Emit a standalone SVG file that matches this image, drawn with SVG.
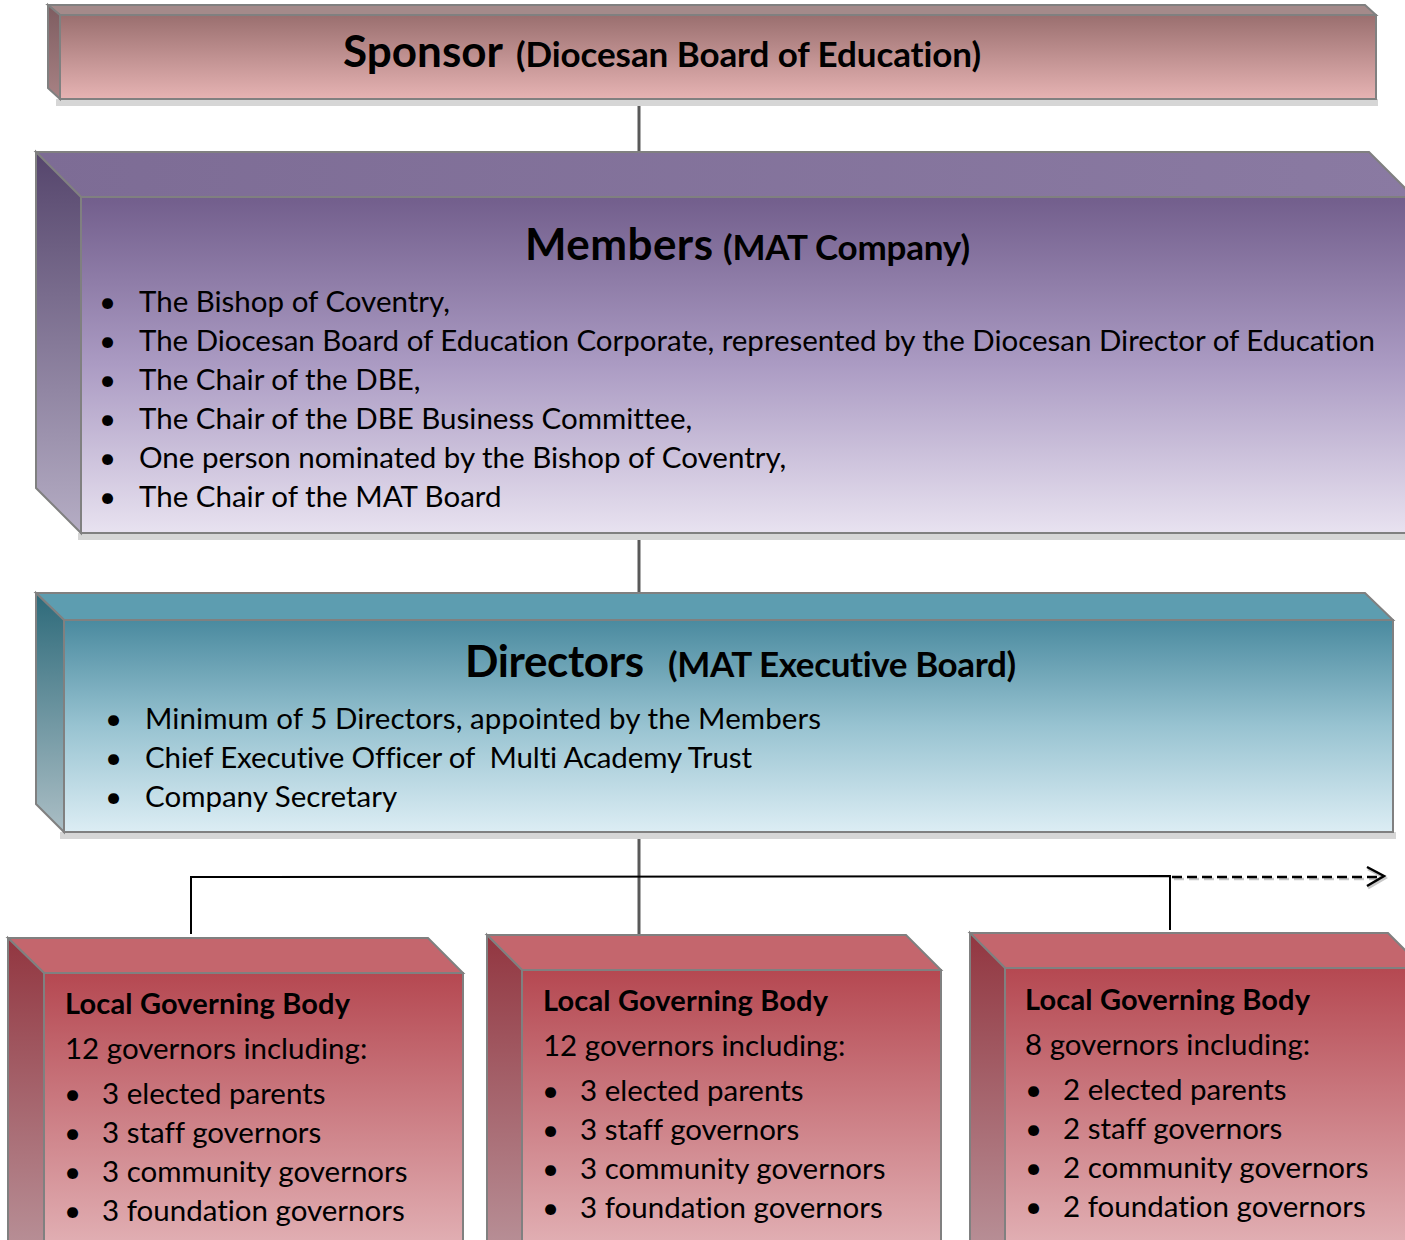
<svg xmlns="http://www.w3.org/2000/svg" width="1405" height="1240" viewBox="0 0 1405 1240">
<defs>
<linearGradient id="spF" x1="0" y1="0" x2="0" y2="1"><stop offset="0" stop-color="#9a6f6f"/><stop offset="1" stop-color="#e6b3b3"/></linearGradient>
<linearGradient id="spL" x1="0" y1="0" x2="0" y2="1"><stop offset="0" stop-color="#7d5c60"/><stop offset="1" stop-color="#a88284"/></linearGradient>
<linearGradient id="mbF" x1="0" y1="0" x2="0" y2="1"><stop offset="0" stop-color="#725e8c"/><stop offset="0.5" stop-color="#ab9bc3"/><stop offset="1" stop-color="#e8e2f0"/></linearGradient>
<linearGradient id="mbL" x1="0" y1="0" x2="0" y2="1"><stop offset="0" stop-color="#55456c"/><stop offset="1" stop-color="#b5adc4"/></linearGradient>
<linearGradient id="mbT" x1="0" y1="0" x2="1" y2="0"><stop offset="0" stop-color="#7d6c95"/><stop offset="1" stop-color="#8a7aa2"/></linearGradient>
<linearGradient id="drF" x1="0" y1="0" x2="0" y2="1"><stop offset="0" stop-color="#4a8a9f"/><stop offset="0.5" stop-color="#98c3d1"/><stop offset="1" stop-color="#dcedf4"/></linearGradient>
<linearGradient id="drL" x1="0" y1="0" x2="0" y2="1"><stop offset="0" stop-color="#2d6a7a"/><stop offset="1" stop-color="#abbec5"/></linearGradient>
<linearGradient id="lgF" x1="0" y1="0" x2="0" y2="1"><stop offset="0" stop-color="#b54851"/><stop offset="1" stop-color="#e4b6ba"/></linearGradient>
<linearGradient id="lgL" x1="0" y1="0" x2="0" y2="1"><stop offset="0" stop-color="#923640"/><stop offset="1" stop-color="#b9939a"/></linearGradient>
</defs>
<style>
.edge{stroke:#808080;stroke-width:2;stroke-linejoin:miter}
.shadow{fill:#d6d6d6}
text{font-family:Lato,"Open Sans","Liberation Sans",sans-serif;fill:#000;font-variant-ligatures:none}
.big{font-size:44px;font-weight:700}
.sub{font-size:35px;font-weight:700}
.item{font-size:29.5px}
.lgt{font-size:29px;font-weight:700}
.lgi{font-size:29.5px}
.conn{stroke:#595959;stroke-width:3;fill:none}
.thin{stroke:#000;stroke-width:2;fill:none}
</style>

<g id="connectors">
<line class="conn" x1="639" y1="99" x2="639" y2="157"/>
<line class="conn" x1="639" y1="540" x2="639" y2="598"/>
<line class="conn" x1="639" y1="832" x2="639" y2="942"/>
<polyline class="thin" points="191,934 191,877 1170,876 1170,930"/>
<line x1="1174" y1="879" x2="1380" y2="879" stroke="#c8c8c8" stroke-width="2.5" stroke-dasharray="10 5"/>
<line x1="1172" y1="877" x2="1378" y2="877" stroke="#000" stroke-width="2.5" stroke-dasharray="10 5"/>
<polyline points="1368,869 1385,878 1368,888" fill="none" stroke="#c8c8c8" stroke-width="3"/>
<polyline points="1367,867 1384,876 1367,886" fill="none" stroke="#000" stroke-width="2.5"/>
</g>

<g id="sponsor">
<rect class="shadow" x="56" y="99" width="1322" height="7"/>
<polygon class="edge" fill="#a48a8a" points="48,5 1365,5 1376,15 60,15"/>
<polygon class="edge" fill="url(#spL)" points="48,5 60,15 60,99 48,88"/>
<rect class="edge" fill="url(#spF)" x="60" y="15" width="1316" height="84"/>
<text x="343" y="67" class="big" textLength="160" lengthAdjust="spacing">Sponsor</text>
<text x="516" y="67" class="sub" textLength="465" lengthAdjust="spacing">(Diocesan Board of Education)</text>
</g>

<g id="members">
<rect class="shadow" x="78" y="533" width="1340" height="7"/>
<polygon class="edge" fill="url(#mbT)" points="36,152 1369,152 1414,197 81,197"/>
<polygon class="edge" fill="url(#mbL)" points="36,152 81,197 81,533 36,488"/>
<rect class="edge" fill="url(#mbF)" x="81" y="197" width="1340" height="336"/>
<text x="525" y="260" class="big" textLength="188" lengthAdjust="spacing">Members</text>
<text x="723" y="260" class="sub" textLength="247" lengthAdjust="spacing">(MAT Company)</text>
<g class="item">
<text x="99" y="312">•</text><text x="139" y="312">The Bishop of Coventry,</text>
<text x="99" y="351">•</text><text x="139" y="351" textLength="1236" lengthAdjust="spacing">The Diocesan Board of Education Corporate, represented by the Diocesan Director of Education</text>
<text x="99" y="390">•</text><text x="139" y="390">The Chair of the DBE,</text>
<text x="99" y="429">•</text><text x="139" y="429">The Chair of the DBE Business Committee,</text>
<text x="99" y="468">•</text><text x="139" y="468">One person nominated by the Bishop of Coventry,</text>
<text x="99" y="507">•</text><text x="139" y="507">The Chair of the MAT Board</text>
</g>
</g>

<g id="directors">
<rect class="shadow" x="60" y="832" width="1336" height="7"/>
<polygon class="edge" fill="#5d9db0" points="36,593 1365,593 1393,620 64,620"/>
<polygon class="edge" fill="url(#drL)" points="36,593 64,620 64,832 36,804"/>
<rect class="edge" fill="url(#drF)" x="64" y="620" width="1329" height="212"/>
<text x="465" y="677" class="big" textLength="179" lengthAdjust="spacing">Directors</text>
<text x="668" y="677" class="sub" textLength="348" lengthAdjust="spacing">(MAT Executive Board)</text>
<g class="item">
<text x="105" y="729">•</text><text x="145" y="729" textLength="676" lengthAdjust="spacing">Minimum of 5 Directors, appointed by the Members</text>
<text x="105" y="768">•</text><text x="145" y="768" textLength="607" lengthAdjust="spacing">Chief Executive Officer of&#160; Multi Academy Trust</text>
<text x="105" y="807">•</text><text x="145" y="807">Company Secretary</text>
</g>
</g>

<g id="lgb1">
<polygon class="edge" fill="#c4666d" points="8,938 428,938 463,973 44,973"/>
<polygon class="edge" fill="url(#lgL)" points="8,938 44,973 44,1260 8,1260"/>
<rect class="edge" fill="url(#lgF)" x="44" y="973" width="419" height="290"/>
<text x="65" y="1014" class="lgt" textLength="285" lengthAdjust="spacing">Local Governing Body</text>
<text x="65" y="1059" class="lgi">12 governors including:</text>
<g class="lgi">
<text x="64" y="1104">•</text><text x="102" y="1104">3 elected parents</text>
<text x="64" y="1143">•</text><text x="102" y="1143">3 staff governors</text>
<text x="64" y="1182">•</text><text x="102" y="1182">3 community governors</text>
<text x="64" y="1221">•</text><text x="102" y="1221">3 foundation governors</text>
</g>
</g>

<g id="lgb2">
<polygon class="edge" fill="#c4666d" points="487,935 906,935 941,970 522,970"/>
<polygon class="edge" fill="url(#lgL)" points="487,935 522,970 522,1260 487,1260"/>
<rect class="edge" fill="url(#lgF)" x="522" y="970" width="419" height="293"/>
<text x="543" y="1011" class="lgt" textLength="285" lengthAdjust="spacing">Local Governing Body</text>
<text x="543" y="1056" class="lgi">12 governors including:</text>
<g class="lgi">
<text x="542" y="1101">•</text><text x="580" y="1101">3 elected parents</text>
<text x="542" y="1140">•</text><text x="580" y="1140">3 staff governors</text>
<text x="542" y="1179">•</text><text x="580" y="1179">3 community governors</text>
<text x="542" y="1218">•</text><text x="580" y="1218">3 foundation governors</text>
</g>
</g>

<g id="lgb3">
<polygon class="edge" fill="#c4666d" points="970,933 1388,933 1423,968 1005,968"/>
<polygon class="edge" fill="url(#lgL)" points="970,933 1005,968 1005,1260 970,1260"/>
<rect class="edge" fill="url(#lgF)" x="1005" y="968" width="420" height="295"/>
<text x="1025" y="1010" class="lgt" textLength="285" lengthAdjust="spacing">Local Governing Body</text>
<text x="1025" y="1055" class="lgi">8 governors including:</text>
<g class="lgi">
<text x="1025" y="1100">•</text><text x="1063" y="1100">2 elected parents</text>
<text x="1025" y="1139">•</text><text x="1063" y="1139">2 staff governors</text>
<text x="1025" y="1178">•</text><text x="1063" y="1178">2 community governors</text>
<text x="1025" y="1217">•</text><text x="1063" y="1217">2 foundation governors</text>
</g>
</g>
</svg>
